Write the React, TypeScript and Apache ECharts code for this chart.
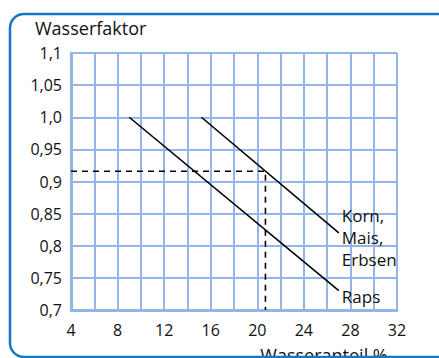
import React, { useEffect, useRef } from "react";
import * as echarts from "echarts";

const yTickLabels: Record<number, string> = {
  70: "0,7", 75: "0,75", 80: "0,8", 85: "0,85", 90: "0,9",
  95: "0,95", 100: "1,0", 105: "1,05", 110: "1,1",
};
const xTickLabels = [4, 8, 12, 16, 20, 24, 28, 32];

const rapsX = [9, 27];
const rapsY = [1.0, 0.73];
const kornX = [15.2, 27];
const kornY = [1.0, 0.82];
const readX = [4, 20.7, 20.7];
const readY = [0.916, 0.916, 0.7];

const rapsLabel = "Raps";
const kornLabel = "Korn,\nMais,\nErbsen";
const yTitle = "Wasserfaktor";
const xTitle = "Wasseranteil %";

const FONT = "Open Sans";
const GRID = "#93b6e6";

const toPairs = (xs: number[], ys: number[]) => xs.map((x, i) => [x, ys[i]]);

export default function App() {
  const ref = useRef<HTMLDivElement>(null);
  useEffect(() => {
    const chart = echarts.init(ref.current!, undefined, { renderer: "svg" });
    chart.setOption({
      animation: false,
      backgroundColor: "#ffffff",
      grid: { left: 71, top: 53, right: 42, bottom: 48 },
      xAxis: {
        type: "value",
        min: 4,
        max: 32,
        interval: 2,
        axisLine: { show: true, lineStyle: { color: GRID, width: 3 } },
        axisTick: { show: false },
        splitLine: { show: true, lineStyle: { color: GRID, width: 2 } },
        axisLabel: {
          color: "#111",
          fontFamily: FONT,
          fontSize: 16,
          margin: 12,
          formatter: (v: number) => (xTickLabels.includes(Math.round(v)) ? String(Math.round(v)) : ""),
        },
      },
      yAxis: {
        type: "value",
        min: 0.7,
        max: 1.1,
        interval: 0.05,
        axisLine: { show: true, lineStyle: { color: GRID, width: 3 } },
        axisTick: { show: false },
        splitLine: { show: true, lineStyle: { color: GRID, width: 2 } },
        axisLabel: {
          color: "#111",
          fontFamily: FONT,
          fontSize: 16,
          margin: 9,
          formatter: (v: number) => yTickLabels[Math.round(v * 100)] ?? "",
        },
      },
      series: [
        {
          type: "line",
          data: toPairs(rapsX, rapsY),
          symbol: "none",
          lineStyle: { color: "#000", width: 1.6 },
          endLabel: {
            show: true,
            formatter: rapsLabel,
            color: "#111",
            fontFamily: FONT,
            fontSize: 17,
            distance: 3,
            offset: [0, 6],
          },
        },
        {
          type: "line",
          data: toPairs(kornX, kornY),
          symbol: "none",
          lineStyle: { color: "#000", width: 1.6 },
          endLabel: {
            show: true,
            formatter: kornLabel,
            color: "#111",
            fontFamily: FONT,
            fontSize: 17,
            lineHeight: 22,
            distance: 3,
            offset: [0, 5],
          },
        },
        {
          type: "line",
          data: toPairs(readX, readY),
          symbol: "none",
          lineStyle: { color: "#000", width: 1.6, type: [6, 5] },
        },
      ],
      graphic: [
        {
          type: "rect",
          shape: { x: 10, y: 14, width: 450, height: 343, r: 14 },
          style: { fill: "none", stroke: "#1877c5", lineWidth: 2.5 },
          z: 10,
        },
        {
          type: "text",
          x: 35,
          y: 28,
          style: {
            text: yTitle,
            fontFamily: FONT,
            fontSize: 18,
            fill: "#111",
            textVerticalAlign: "middle",
          },
        },
        {
          type: "text",
          x: 324,
          y: 355,
          style: {
            text: xTitle,
            fontFamily: FONT,
            fontSize: 18,
            fill: "#111",
            textAlign: "center",
            textVerticalAlign: "middle",
          },
        },
      ],
    });
    return () => chart.dispose();
  }, []);
  return (
    <div
      ref={ref}
      style={{ position: "fixed", left: 0, top: 0, width: 439, height: 358 }}
    />
  );
}
